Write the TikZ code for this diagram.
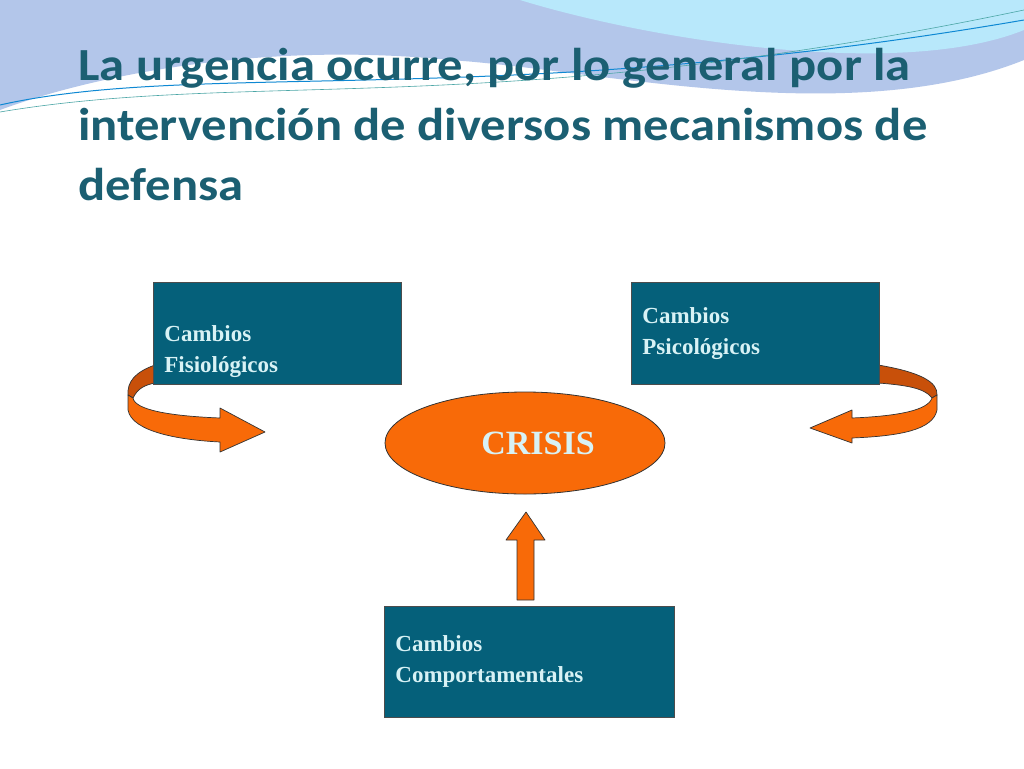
\documentclass[tikz,border=0pt]{standalone}
\usepackage{fontspec}
\setmainfont{Liberation Serif}
\newfontfamily\titlefont{Carlito}
\begin{document}
\begin{tikzpicture}[x=1pt,y=-1pt,
  box/.style={draw=black!70,fill=boxc,line width=0.8pt,text=txtc,font=\bfseries\fontsize{23}{31}\selectfont,align=left,anchor=north west,inner xsep=11pt,inner ysep=8pt},
  arr/.style={fill=orangec,draw=black!80,line width=0.7pt,line join=round}]
\definecolor{boxc}{HTML}{05607A}
\definecolor{txtc}{HTML}{D8F2F5}
\definecolor{orangec}{HTML}{F86A08}
\definecolor{darko}{HTML}{C8500A}
\definecolor{titc}{HTML}{1B5F72}
\useasboundingbox (0,0) rectangle (1024,768);
\fill[white] (0,0) rectangle (1024,768);
% top swoosh
\fill[cyan!50!blue!30] (0,0) -- (1024,0) -- (1024,60) .. controls (850,130) and (600,70) .. (450,60) .. controls (250,40) and (80,80) .. (0,110) -- cycle;
\fill[cyan!35!white!80] (520,0) -- (1024,0) -- (1024,30) .. controls (900,80) and (650,40) .. (520,0) -- cycle;
\draw[cyan!70!blue,line width=1pt] (0,105) .. controls (200,60) and (500,110) .. (1024,20);
\draw[teal!70,line width=0.6pt] (0,112) .. controls (250,70) and (500,120) .. (1024,10);
% title
\node[anchor=north west,align=left,text=titc,font=\titlefont\bfseries\fontsize{46}{60}\selectfont,inner sep=0pt] (title) at (78,38) {\scalebox{1.1}[1]{\begin{tabular}{@{}l@{}}La urgencia ocurre, por lo general por la\\intervención de diversos mecanismos de\\defensa\end{tabular}}};
% curved arrows
\fill[darko,draw=black!80,line width=0.7pt] (155,365) .. controls (135,372) and (127,382) .. (128,395) -- (133,398) .. controls (138,388) and (145,385) .. (155,383) -- cycle;
\draw[arr] (128,395) -- (128,410) .. controls (132,432) and (180,440) .. (220,442) -- (220,452) -- (265,432) -- (220,408) -- (220,418) .. controls (170,416) and (135,410) .. (133,398) -- cycle;
\fill[darko,draw=black!80,line width=0.7pt] (878,365) .. controls (920,372) and (938,382) .. (937,395) -- (932,398) .. controls (925,388) and (905,385) .. (878,383) -- cycle;
\draw[arr] (937,395) -- (937,410) .. controls (933,430) and (900,436) .. (852,438) -- (852,443) -- (810,428) -- (852,410) -- (852,418) .. controls (900,416) and (928,410) .. (932,398) -- cycle;
% boxes
\node[box,text width=226pt,minimum height=102pt,text depth=0pt] (fis) at (153,282) {Cambios\\Fisiológicos};
\node[box,text width=226pt,minimum height=102pt] (psi) at (631,282) {Cambios\\Psicológicos};
\node[box,text width=268pt,minimum height=111pt,inner ysep=20pt] (com) at (384,606) {Cambios\\Comportamentales};
% ellipse
\draw[fill=orangec,draw=black!80,line width=0.8pt] (525,443) ellipse [x radius=140,y radius=51];
\node[text=txtc,font=\bfseries\fontsize{34}{40}\selectfont] (crisis) at (538,443) {CRISIS};
% up arrow
\draw[arr] (517,600) -- (517,540) -- (506,540) -- (526,512) -- (545,540) -- (534,540) -- (534,600) -- cycle;
\end{tikzpicture}
\end{document}
